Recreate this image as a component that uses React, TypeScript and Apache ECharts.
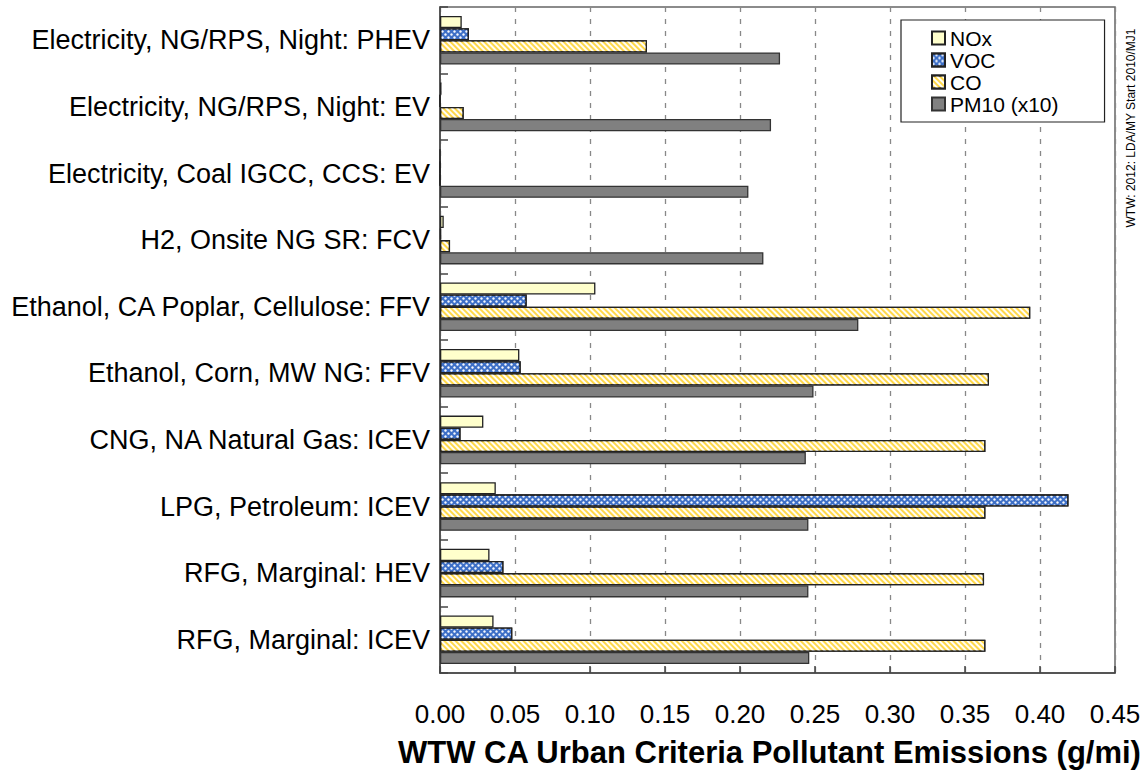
import React, { useEffect, useRef } from "react";
import * as echarts from "echarts";

const categories = [
  "Electricity, NG/RPS, Night: PHEV",
  "Electricity, NG/RPS, Night: EV",
  "Electricity, Coal IGCC, CCS: EV",
  "H2, Onsite NG SR: FCV",
  "Ethanol, CA Poplar, Cellulose: FFV",
  "Ethanol, Corn, MW NG: FFV",
  "CNG, NA Natural Gas: ICEV",
  "LPG, Petroleum: ICEV",
  "RFG, Marginal: HEV",
  "RFG, Marginal: ICEV",
];

const noxValues = [0.0145, 0.001, 0, 0.0025, 0.1036, 0.0529, 0.0289, 0.0372, 0.033, 0.0357];
const vocValues = [0.0193, 0, 0, 0.0007, 0.0578, 0.0538, 0.0137, 0.419, 0.0423, 0.0482];
const coValues = [0.138, 0.0158, 0, 0.0067, 0.3935, 0.366, 0.3636, 0.3636, 0.3627, 0.3636];
const pm10Values = [0.2267, 0.2207, 0.2056, 0.2156, 0.2789, 0.249, 0.2439, 0.2456, 0.2456, 0.2462];

const seriesNames = ["NOx", "VOC", "CO", "PM10 (x10)"];
const xTicks = { min: 0, max: 0.45, interval: 0.05 };
const xTitle = "WTW CA Urban Criteria Pollutant Emissions (g/mi)";
const sideNote = "WTW: 2012: LDA/MY Start 2010/MJ1";

const FONT = "Liberation Sans, Arial, sans-serif";

export default function App() {
  const ref = useRef<HTMLDivElement>(null);
  useEffect(() => {
    if (!ref.current) return;
    const chart = echarts.init(ref.current, undefined, { renderer: "svg" });
    const border = { borderColor: "#222", borderWidth: 1.3 };
    const base = {
      type: "bar",
      barGap: "0%",
      barCategoryGap: "27%",
    };
    chart.setOption({
      animation: false,
      backgroundColor: "#fff",
      textStyle: { fontFamily: FONT },
      grid: {
        left: 440,
        right: 33,
        top: 7,
        bottom: 104,
        show: true,
        borderColor: "#666",
        borderWidth: 1.5,
        backgroundColor: "transparent",
        containLabel: false,
        outerBoundsMode: "none",
      },
      legend: {
        orient: "vertical",
        left: 901,
        top: 20,
        itemWidth: 13,
        itemHeight: 13,
        itemGap: 0,
        padding: [7, 46, 7, 30],
        borderColor: "#222",
        borderWidth: 1.2,
        backgroundColor: "#fff",
        textStyle: { fontSize: 21, color: "#000", fontFamily: FONT, lineHeight: 22 },
        icon: "rect",
        data: seriesNames,
      },
      xAxis: {
        type: "value",
        min: xTicks.min,
        max: xTicks.max,
        interval: xTicks.interval,
        axisLine: { show: true, lineStyle: { color: "#444", width: 1.5 } },
        axisTick: { show: true, inside: true, length: 7, lineStyle: { color: "#444", width: 1.5 } },
        axisLabel: {
          fontSize: 26,
          color: "#000",
          margin: 28,
          fontFamily: FONT,
          formatter: (v: number) => v.toFixed(2),
        },
        splitLine: { show: true, lineStyle: { color: "#888", type: [5, 7], width: 1.3 } },
        name: xTitle,
        nameLocation: "middle",
        nameGap: 64,
        nameTextStyle: {
          fontSize: 31,
          fontWeight: "bold",
          color: "#000",
          fontFamily: FONT,
          padding: [0, 16, 0, 0],
        },
      },
      yAxis: {
        type: "category",
        data: categories,
        inverse: true,
        axisLine: { show: true, lineStyle: { color: "#444", width: 1.5 } },
        axisTick: { show: true, inside: true, length: 8, lineStyle: { color: "#444", width: 1.5 } },
        axisLabel: { fontSize: 27, color: "#000", margin: 10, fontFamily: FONT, padding: [6, 0, 0, 0] },
        splitLine: { show: false },
      },
      series: [
        {
          ...base,
          name: seriesNames[0],
          data: noxValues,
          itemStyle: { color: "#FFFFCC", ...border },
        },
        {
          ...base,
          name: seriesNames[1],
          data: vocValues,
          itemStyle: {
            color: "#3D6FC6",
            ...border,
            decal: {
              symbol: "circle",
              symbolSize: 0.85,
              color: "rgba(255,255,255,0.95)",
              dashArrayX: [[3, 3], [0, 3, 3, 0]],
              dashArrayY: [3, 0],
            },
          },
        },
        {
          ...base,
          name: seriesNames[2],
          data: coValues,
          itemStyle: {
            color: "#FFD84A",
            ...border,
            decal: {
              symbol: "rect",
              symbolSize: 1,
              color: "rgba(255,255,255,0.95)",
              dashArrayX: [1, 0],
              dashArrayY: [2, 2],
              rotation: Math.PI / 4,
            },
          },
        },
        {
          ...base,
          name: seriesNames[3],
          data: pm10Values,
          itemStyle: { color: "#808080", borderColor: "#333", borderWidth: 1.3 },
        },
      ],
      graphic: [
        {
          type: "text",
          x: 1131,
          y: 128,
          rotation: Math.PI / 2,
          style: {
            text: sideNote,
            fontSize: 12,
            fontFamily: FONT,
            fill: "#000",
            textAlign: "center",
            textVerticalAlign: "middle",
          },
        },
      ],
    });
    return () => chart.dispose();
  }, []);
  return (
    <div
      ref={ref}
      style={{ position: "fixed", left: 0, top: 0, width: 1148, height: 777, background: "#fff" }}
    />
  );
}
